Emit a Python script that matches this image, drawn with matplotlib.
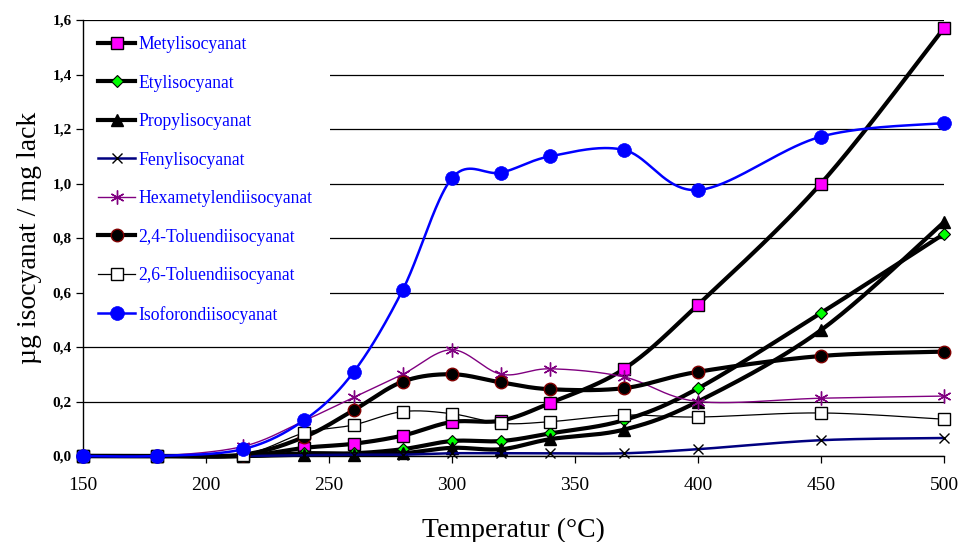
import numpy as np
import matplotlib
matplotlib.use('Agg')
import matplotlib.pyplot as plt
from matplotlib.lines import Line2D
from matplotlib.patches import Rectangle

plt.rcParams['font.family'] = ['Liberation Serif', 'DejaVu Serif']

temperature = [150, 180, 215, 240, 260, 280, 300, 320, 340, 370, 400, 450, 500]
metyl = [0, 0, 0.0, 0.03, 0.045, 0.075, 0.125, 0.13, 0.195, 0.32, 0.555, 1.0, 1.57]
etyl = [0, 0, 0, 0.01, 0.01, 0.025, 0.055, 0.055, 0.083, 0.132, 0.248, 0.525, 0.815]
propyl = [0, 0, 0, 0.005, 0.005, 0.01, 0.03, 0.025, 0.062, 0.097, 0.2, 0.462, 0.858]
fenyl = [0, 0, 0, 0.003, 0.005, 0.005, 0.01, 0.01, 0.01, 0.01, 0.025, 0.058, 0.066]
hexa = [0, 0, 0.035, 0.13, 0.215, 0.3, 0.39, 0.3, 0.32, 0.29, 0.2, 0.212, 0.22]
tdi24 = [0, 0, 0.005, 0.07, 0.168, 0.273, 0.3, 0.27, 0.245, 0.249, 0.309, 0.367, 0.383]
tdi26 = [0, 0, 0.005, 0.085, 0.114, 0.163, 0.155, 0.12, 0.126, 0.15, 0.143, 0.158, 0.135]
ipdi = [0, 0, 0.025, 0.132, 0.308, 0.61, 1.02, 1.04, 1.1, 1.123, 0.976, 1.172, 1.222]

labels = ['Metylisocyanat', 'Etylisocyanat', 'Propylisocyanat', 'Fenylisocyanat',
          'Hexametylendiisocyanat', '2,4-Toluendiisocyanat', '2,6-Toluendiisocyanat',
          'Isoforondiisocyanat']
yticks = [0.0, 0.2, 0.4, 0.6, 0.8, 1.0, 1.2, 1.4, 1.6]
ytick_labels = ['0,0', '0,2', '0,4', '0,6', '0,8', '1,0', '1,2', '1,4', '1,6']
xticks = [150, 200, 250, 300, 350, 400, 450, 500]

series = [metyl, etyl, propyl, fenyl, hexa, tdi24, tdi26, ipdi]
styles = [
    dict(color='black', lw=3.0, marker='s', ms=8.5, mfc='#FF00FF', mec='black', mew=1.0),
    dict(color='black', lw=3.0, marker='D', ms=6.5, mfc='#00FF00', mec='black', mew=0.8),
    dict(color='black', lw=3.0, marker='^', ms=9, mfc='black', mec='black', mew=1.0),
    dict(color='#000080', lw=1.8, marker='x', ms=7, mfc='black', mec='black', mew=1.0),
    dict(color='#800080', lw=1.0, marker=(6, 2, 0), ms=10, mfc='#800080', mec='#800080', mew=1.0),
    dict(color='black', lw=3.0, marker='o', ms=9, mfc='black', mec='#800000', mew=1.0),
    dict(color='black', lw=0.9, marker='s', ms=8.5, mfc='white', mec='black', mew=1.0),
    dict(color='#0000FF', lw=1.8, marker='o', ms=10, mfc='#0000FF', mec='#0000FF', mew=0.5),
]

SX = 861 / 350.0
SY = 436 / 1.6


def smooth(x, y, n=40):
    P = np.column_stack([np.asarray(x, float) * SX, np.asarray(y, float) * SY])
    E = np.vstack([P[0], P, P[-1]])
    t = np.linspace(0, 1, n)[:, None]
    parts = []
    for i in range(len(P) - 1):
        p0, p1, p2, p3 = E[i], E[i + 1], E[i + 2], E[i + 3]
        c1 = p1 + (p2 - p0) / 6.0
        c2 = p2 - (p3 - p1) / 6.0
        B = (1 - t) ** 3 * p1 + 3 * (1 - t) ** 2 * t * c1 + 3 * (1 - t) * t ** 2 * c2 + t ** 3 * p2
        parts.append(B if i == 0 else B[1:])
    B = np.vstack(parts)
    return B[:, 0] / SX, B[:, 1] / SY


fig = plt.figure(figsize=(9.61, 5.42), dpi=100)
ax = fig.add_axes([83 / 961, 1 - 456 / 542, 861 / 961, 436 / 542])

ax.set_xlim(150, 500)
ax.set_ylim(0, 1.6)

ax.set_axisbelow(True)
ax.yaxis.grid(True, color='black', lw=0.9)
ax.xaxis.grid(False)

# white background behind the legend (hides gridlines there)
ax.add_patch(Rectangle((0, 0.27), 0.287, 0.72, transform=ax.transAxes,
                       facecolor='white', edgecolor='none', zorder=1.5))

handles = []
for k, (vals, st) in enumerate(zip(series, styles)):
    xs, ys = smooth(temperature, vals)
    ax.plot(xs, ys, color=st['color'], lw=st['lw'], solid_capstyle='round',
            zorder=2 + k * 0.1, clip_on=False)
    ax.plot(temperature, vals, ls='none', marker=st['marker'], ms=st['ms'],
            mfc=st['mfc'], mec=st['mec'], mew=st['mew'], zorder=2.05 + k * 0.1, clip_on=False)
    handles.append(Line2D([], [], color=st['color'], lw=st['lw'], marker=st['marker'],
                          ms=st['ms'], mfc=st['mfc'], mec=st['mec'], mew=st['mew']))

for s in ['top', 'right']:
    ax.spines[s].set_visible(False)
for s in ['left', 'bottom']:
    ax.spines[s].set_linewidth(1.0)
    ax.spines[s].set_zorder(1.8)

ax.set_yticks(yticks)
ax.set_yticklabels(ytick_labels, fontsize=11, fontweight='bold')
ax.set_xticks(xticks)
ax.set_xticklabels([str(v) for v in xticks], fontsize=14)
ax.tick_params(axis='both', direction='out', length=5, width=0.9, color='black')
ax.tick_params(axis='x', pad=10)
ax.tick_params(axis='y', pad=3)

ax.set_xlabel('Temperatur (°C)', fontsize=20, labelpad=17)
ax.set_ylabel('µg isocyanat / mg lack', fontsize=20, labelpad=8)

leg = ax.legend(handles, labels, loc='upper left', bbox_to_anchor=(98 / 961, 1 - 36 / 542),
                bbox_transform=fig.transFigure, frameon=False, fontsize=12.7,
                handlelength=2.1, handletextpad=0.2, labelspacing=1.22,
                borderpad=0, borderaxespad=0)
for t in leg.get_texts():
    t.set_color('#0000FF')

fig.savefig('out.png', dpi=100)
